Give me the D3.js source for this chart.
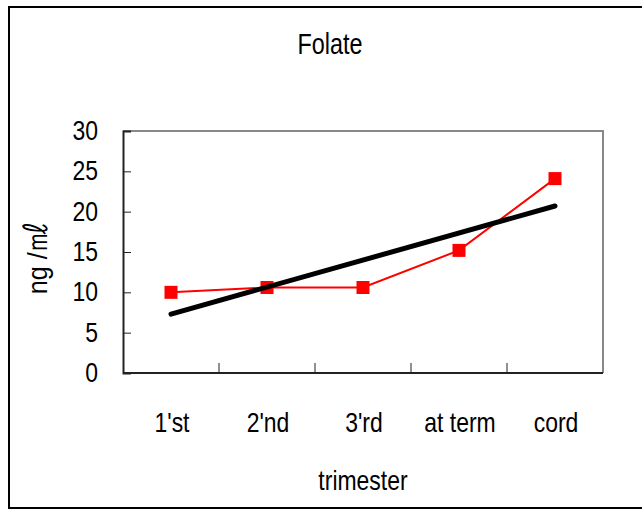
<!DOCTYPE html>
<html><head><meta charset="utf-8">
<script src="https://cdn.jsdelivr.net/npm/d3@7"></script>
<style>
html,body{margin:0;padding:0;background:#fff;}
text{font-family:"Liberation Sans Narrow","Arial Narrow","Liberation Sans",Arial,sans-serif;fill:#000;}
</style></head>
<body>
<svg id="chart" width="642" height="511"></svg>
<script>
const categories = ["1'st", "2'nd", "3'rd", "at term", "cord"];
const folateValues = [10.0, 10.6, 10.6, 15.2, 24.1];
const trendValues = [7.3, 20.7]; // linear trendline at first and last category
const yTicks = [0, 5, 10, 15, 20, 25, 30];
const titleText = "Folate";
const xTitle = "trimester";
const yTitleMain = "ng /";
const yTitleUnit = "\u3396";

const svg = d3.select("#chart");
const W = 642, H = 511;
const m = {left:123, right:603, top:131, bottom:373};
const FS = 28, SX = 0.82;

function label(parent, x, y, str, anchor, rot, fs, sx) {
  return parent.append("text")
    .attr("transform", `translate(${x},${y})` + (rot ? ` rotate(${rot})` : "") + ` scale(${sx||SX},1)`)
    .attr("text-anchor", anchor).attr("font-size", fs||FS).text(str);
}

svg.append("rect").attr("x",0).attr("y",0).attr("width",W).attr("height",H).attr("fill","#fff");
// outer frame
svg.append("rect").attr("x",9).attr("y",7).attr("width",W).attr("height",501)
  .attr("fill","none").attr("stroke","#000").attr("stroke-width",2);

const x = d3.scaleBand().domain(categories).range([m.left, m.right]).padding(0);
const y = d3.scaleLinear().domain([0,30]).range([m.bottom, m.top]);

// plot area border: top & right gray
svg.append("path")
  .attr("d", `M${m.left},${m.top}H${m.right}V${m.bottom}`)
  .attr("fill","none").attr("stroke","#888").attr("stroke-width",2);

// y axis
const yAxis = d3.axisLeft(y).tickValues(yTicks).tickSize(-8).tickFormat("");
const gy = svg.append("g").attr("transform",`translate(${m.left},0)`).call(yAxis);
gy.select(".domain").attr("stroke","#222").attr("stroke-width",2);
gy.selectAll(".tick line").attr("stroke","#222").attr("stroke-width",1);
yTicks.forEach(t => label(svg, 98, y(t) + 9, d3.format("d")(t), "end"));

// x axis with ticks between categories
const gx = svg.append("g").attr("transform",`translate(0,${m.bottom})`);
gx.append("line").attr("x1",m.left).attr("x2",m.right).attr("y1",0).attr("y2",0)
  .attr("stroke","#222").attr("stroke-width",2);
gx.selectAll("line.tk").data(categories.slice(1)).enter().append("line").attr("class","tk")
  .attr("x1",d=>x(d)).attr("x2",d=>x(d)).attr("y1",0).attr("y2",-10)
  .attr("stroke","#222").attr("stroke-width",1);
const cx = d=>x(d)+x.bandwidth()/2;
categories.forEach(c => label(svg, cx(c) + 1, 432, c, "middle"));

// red data line
const line = d3.line().x((d,i)=>cx(categories[i])).y(d=>y(d));
svg.append("path").datum(folateValues).attr("d",line)
  .attr("fill","none").attr("stroke","#f00").attr("stroke-width",2);
svg.selectAll("rect.mk").data(folateValues).enter().append("rect").attr("class","mk")
  .attr("x",(d,i)=>cx(categories[i])-6.5).attr("y",d=>y(d)-6.5)
  .attr("width",13).attr("height",13).attr("fill","#f00");

// trendline
svg.append("line")
  .attr("x1",cx(categories[0])).attr("y1",y(trendValues[0]))
  .attr("x2",cx(categories[categories.length-1])).attr("y2",y(trendValues[1]))
  .attr("stroke","#000").attr("stroke-width",5).attr("stroke-linecap","round");

// titles
label(svg, 330, 54, titleText, "middle", 0, 30, 0.78);
label(svg, 363, 490, xTitle, "middle");
const yt = svg.append("text")
  .attr("transform", "translate(47,258) rotate(-90) scale(0.9,1)")
  .attr("text-anchor", "middle").attr("font-size", FS);
yt.append("tspan").text(yTitleMain);
yt.append("tspan").attr("font-size", 34).text(yTitleUnit);
</script>
</body></html>
